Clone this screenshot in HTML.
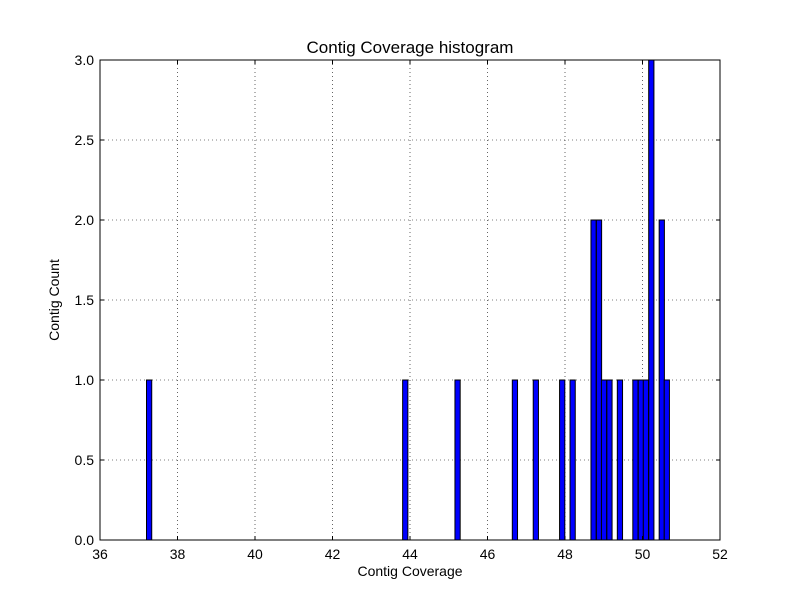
<!DOCTYPE html>
<html><head><meta charset="utf-8"><style>
body{margin:0;background:#fff;}
svg{display:block;font-family:"Liberation Sans","DejaVu Sans",sans-serif;}
</style></head><body>
<svg id="chart" width="800" height="600" viewBox="0 0 800 600" xmlns="http://www.w3.org/2000/svg">
<rect width="800" height="600" fill="#fff"/>
<text x="410" y="53" font-size="17" text-anchor="middle">Contig Coverage histogram</text>
<text x="410" y="576" font-size="14" text-anchor="middle">Contig Coverage</text>
<text x="59" y="300" font-size="14" text-anchor="middle" transform="rotate(-90 59 300)">Contig Count</text>
<g id="grid"></g>
<g id="bars"></g>
<g id="axes"></g>
</svg>
<script>
const binLefts = [37.20, 43.81, 45.16, 46.64, 47.18, 47.86, 48.13, 48.67, 48.81, 48.94, 49.08, 49.35, 49.75, 49.89, 50.02, 50.16, 50.43, 50.56];
const counts   = [1, 1, 1, 1, 1, 1, 1, 2, 2, 1, 1, 1, 1, 1, 1, 3, 2, 1];
const binWidth = 0.135;
const xTicks = [36, 38, 40, 42, 44, 46, 48, 50, 52];
const yTicks = [0, 0.5, 1.0, 1.5, 2.0, 2.5, 3.0];
const yTickLabels = ["0.0", "0.5", "1.0", "1.5", "2.0", "2.5", "3.0"];

const L=100,R=720,T=60,B=540, xMin=36,xMax=52,yMin=0,yMax=3;
const xs = v => L + (v-xMin)/(xMax-xMin)*(R-L);
const ys = v => B - (v-yMin)/(yMax-yMin)*(B-T);
const NS="http://www.w3.org/2000/svg";
function mk(tag, parent, attrs){const e=document.createElementNS(NS,tag);for(const k in attrs)e.setAttribute(k,attrs[k]);parent.appendChild(e);return e;}
const grid=document.getElementById('grid'), bars=document.getElementById('bars'), axes=document.getElementById('axes');

xTicks.forEach(t=>{
  const x=xs(t);
  if(t>xMin&&t<xMax){const g=mk('line',grid,{x1:x,x2:x,y1:T,y2:B,stroke:'#000','stroke-width':0.6,'stroke-dasharray':'1,3'});
  
  }
  mk('line',axes,{x1:x,x2:x,y1:B,y2:B-4,stroke:'#000'});
  mk('line',axes,{x1:x,x2:x,y1:T,y2:T+4,stroke:'#000'});
  const lb=mk('text',axes,{x:x,y:B+19,'font-size':14,'text-anchor':'middle'});
  lb.textContent=t;
  
  
});
yTicks.forEach((t,i)=>{
  const y=ys(t);
  if(t>yMin&&t<yMax){const g=mk('line',grid,{x1:L,x2:R,y1:y,y2:y,stroke:'#000','stroke-width':0.6,'stroke-dasharray':'1,3'});
  
  }
  mk('line',axes,{x1:L,x2:L+4,y1:y,y2:y,stroke:'#000'});
  mk('line',axes,{x1:R,x2:R-4,y1:y,y2:y,stroke:'#000'});
  const lb=mk('text',axes,{x:L-6,y:y+5,'font-size':14,'text-anchor':'end'});
  lb.textContent=yTickLabels[i];
  
  
});
binLefts.forEach((b,i)=>{
  const x0=xs(b), x1=xs(b+binWidth), y=ys(counts[i]);
  const r=mk('rect',bars,{x:x0,y:y,width:x1-x0,height:B-y,fill:'#0000ff',stroke:'#000','stroke-width':1});
  
  
});
const fr=mk('rect',axes,{x:L,y:T,width:R-L,height:B-T,fill:'none',stroke:'#000','stroke-width':1});


</script>
</body></html>
